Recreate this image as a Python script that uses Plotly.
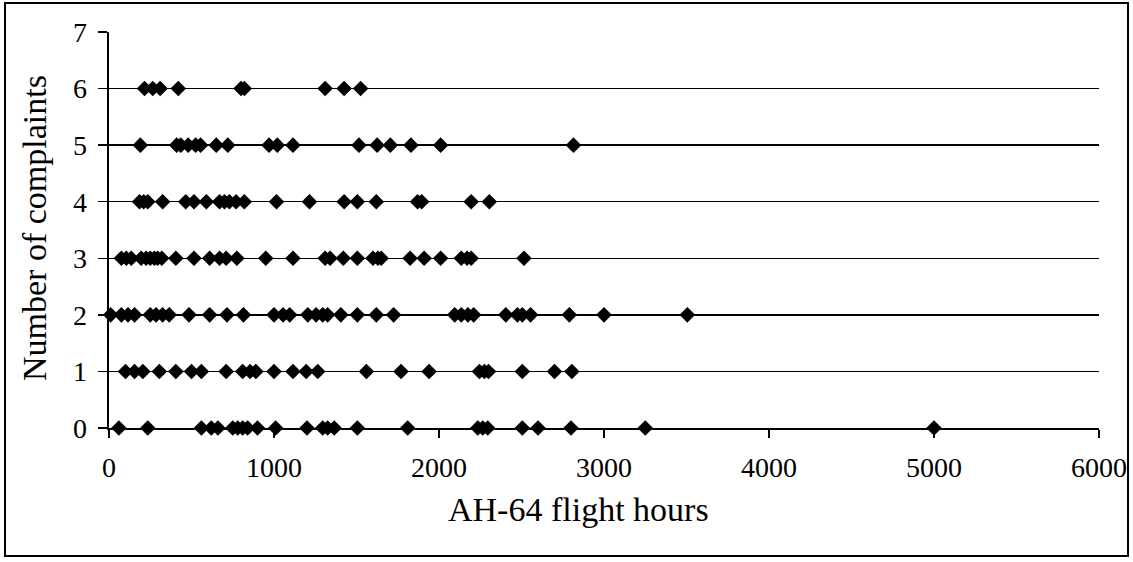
import plotly.graph_objects as go

# Flight hours per number of complaints
hours_0 = [60, 235, 560, 620, 660, 750, 780, 810, 840, 900, 1010, 1200, 1295, 1325, 1365,
           1505, 1810, 2235, 2265, 2295, 2505, 2600, 2800, 3250, 5000]
hours_1 = [100, 155, 205, 305, 405, 500, 560, 710, 810, 855, 890, 1000, 1115, 1195, 1265,
           1560, 1770, 1940, 2245, 2275, 2300, 2505, 2700, 2805]
hours_2 = [10, 75, 115, 155, 250, 285, 325, 365, 485, 610, 715, 815, 1000, 1055, 1095,
           1205, 1255, 1295, 1325, 1405, 1505, 1620, 1725, 2095, 2135, 2175, 2210, 2405,
           2475, 2505, 2555, 2790, 3000, 3505]
hours_3 = [75, 105, 135, 195, 225, 250, 275, 295, 320, 405, 515, 610, 670, 710, 775, 950,
           1115, 1310, 1340, 1420, 1505, 1600, 1630, 1650, 1825, 1910, 2010, 2135, 2170,
           2195, 2515]
hours_4 = [185, 210, 235, 325, 465, 515, 590, 670, 700, 730, 770, 820, 1015, 1215, 1425,
           1505, 1620, 1870, 1895, 2195, 2305]
hours_5 = [190, 410, 435, 480, 525, 555, 650, 720, 970, 1020, 1115, 1515, 1625, 1705, 1830,
           2010, 2815]
hours_6 = [215, 265, 310, 420, 800, 820, 1310, 1425, 1525]

complaint_levels = [0, 1, 2, 3, 4, 5, 6]
series = [hours_0, hours_1, hours_2, hours_3, hours_4, hours_5, hours_6]

x_ticks = [0, 1000, 2000, 3000, 4000, 5000, 6000]
y_ticks = [0, 1, 2, 3, 4, 5, 6, 7]

x_title = "AH-64 flight hours"
y_title = "Number of complaints"

x_vals, y_vals = [], []
for lvl, hrs in zip(complaint_levels, series):
    x_vals += hrs
    y_vals += [lvl] * len(hrs)

FONT = "Liberation Serif, Times New Roman, serif"

fig = go.Figure()
fig.add_trace(go.Scatter(
    x=x_vals, y=y_vals, mode="markers",
    marker=dict(symbol="diamond", size=12, color="black", line=dict(width=0)),
    cliponaxis=False, showlegend=False, hoverinfo="skip",
))

W, H = 1133, 562
L, R, T, B = 109, 1099, 32, 428
PW, PH = R - L, B - T

fig.update_layout(
    width=W, height=H,
    margin=dict(l=L, r=W - R, t=T, b=H - B, autoexpand=False),
    paper_bgcolor="white", plot_bgcolor="white",
    font=dict(family=FONT, color="black", size=28),
    xaxis=dict(
        range=[0, 6000], tickvals=x_ticks, ticktext=[str(v) for v in x_ticks],
        showgrid=False, zeroline=False,
        showline=True, linecolor="black", linewidth=2,
        ticks="outside", ticklen=8, tickcolor="black", tickwidth=2,
        ticklabelstandoff=5,
    ),
    yaxis=dict(
        range=[0, 7], tickvals=y_ticks, ticktext=[str(v) for v in y_ticks],
        showgrid=True, gridcolor="black", gridwidth=1.5,
        zeroline=False,
        showline=True, linecolor="black", linewidth=2.5,
        ticks="outside", ticklen=9, tickcolor="black", tickwidth=1.5,
        ticklabelstandoff=5,
    ),
    annotations=[
        dict(text=x_title, xref="paper", yref="paper",
             x=(578 - L) / PW, y=(B - 509) / PH,
             xanchor="center", yanchor="middle", showarrow=False,
             font=dict(size=34)),
        dict(text=y_title, xref="paper", yref="paper",
             x=(34 - L) / PW, y=(B - 228) / PH, textangle=-90,
             xanchor="center", yanchor="middle", showarrow=False,
             font=dict(size=34)),
    ],
    shapes=[dict(
        type="rect", xref="paper", yref="paper",
        x0=(5 - L) / PW, x1=(1128 - L) / PW,
        y0=(B - 556) / PH, y1=(B - 3) / PH,
        line=dict(color="black", width=2), fillcolor="rgba(0,0,0,0)",
    )],
)

fig.write_html("out.html", config={"displayModeBar": False, "staticPlot": True},
               post_script="document.body.style.margin='0';")
